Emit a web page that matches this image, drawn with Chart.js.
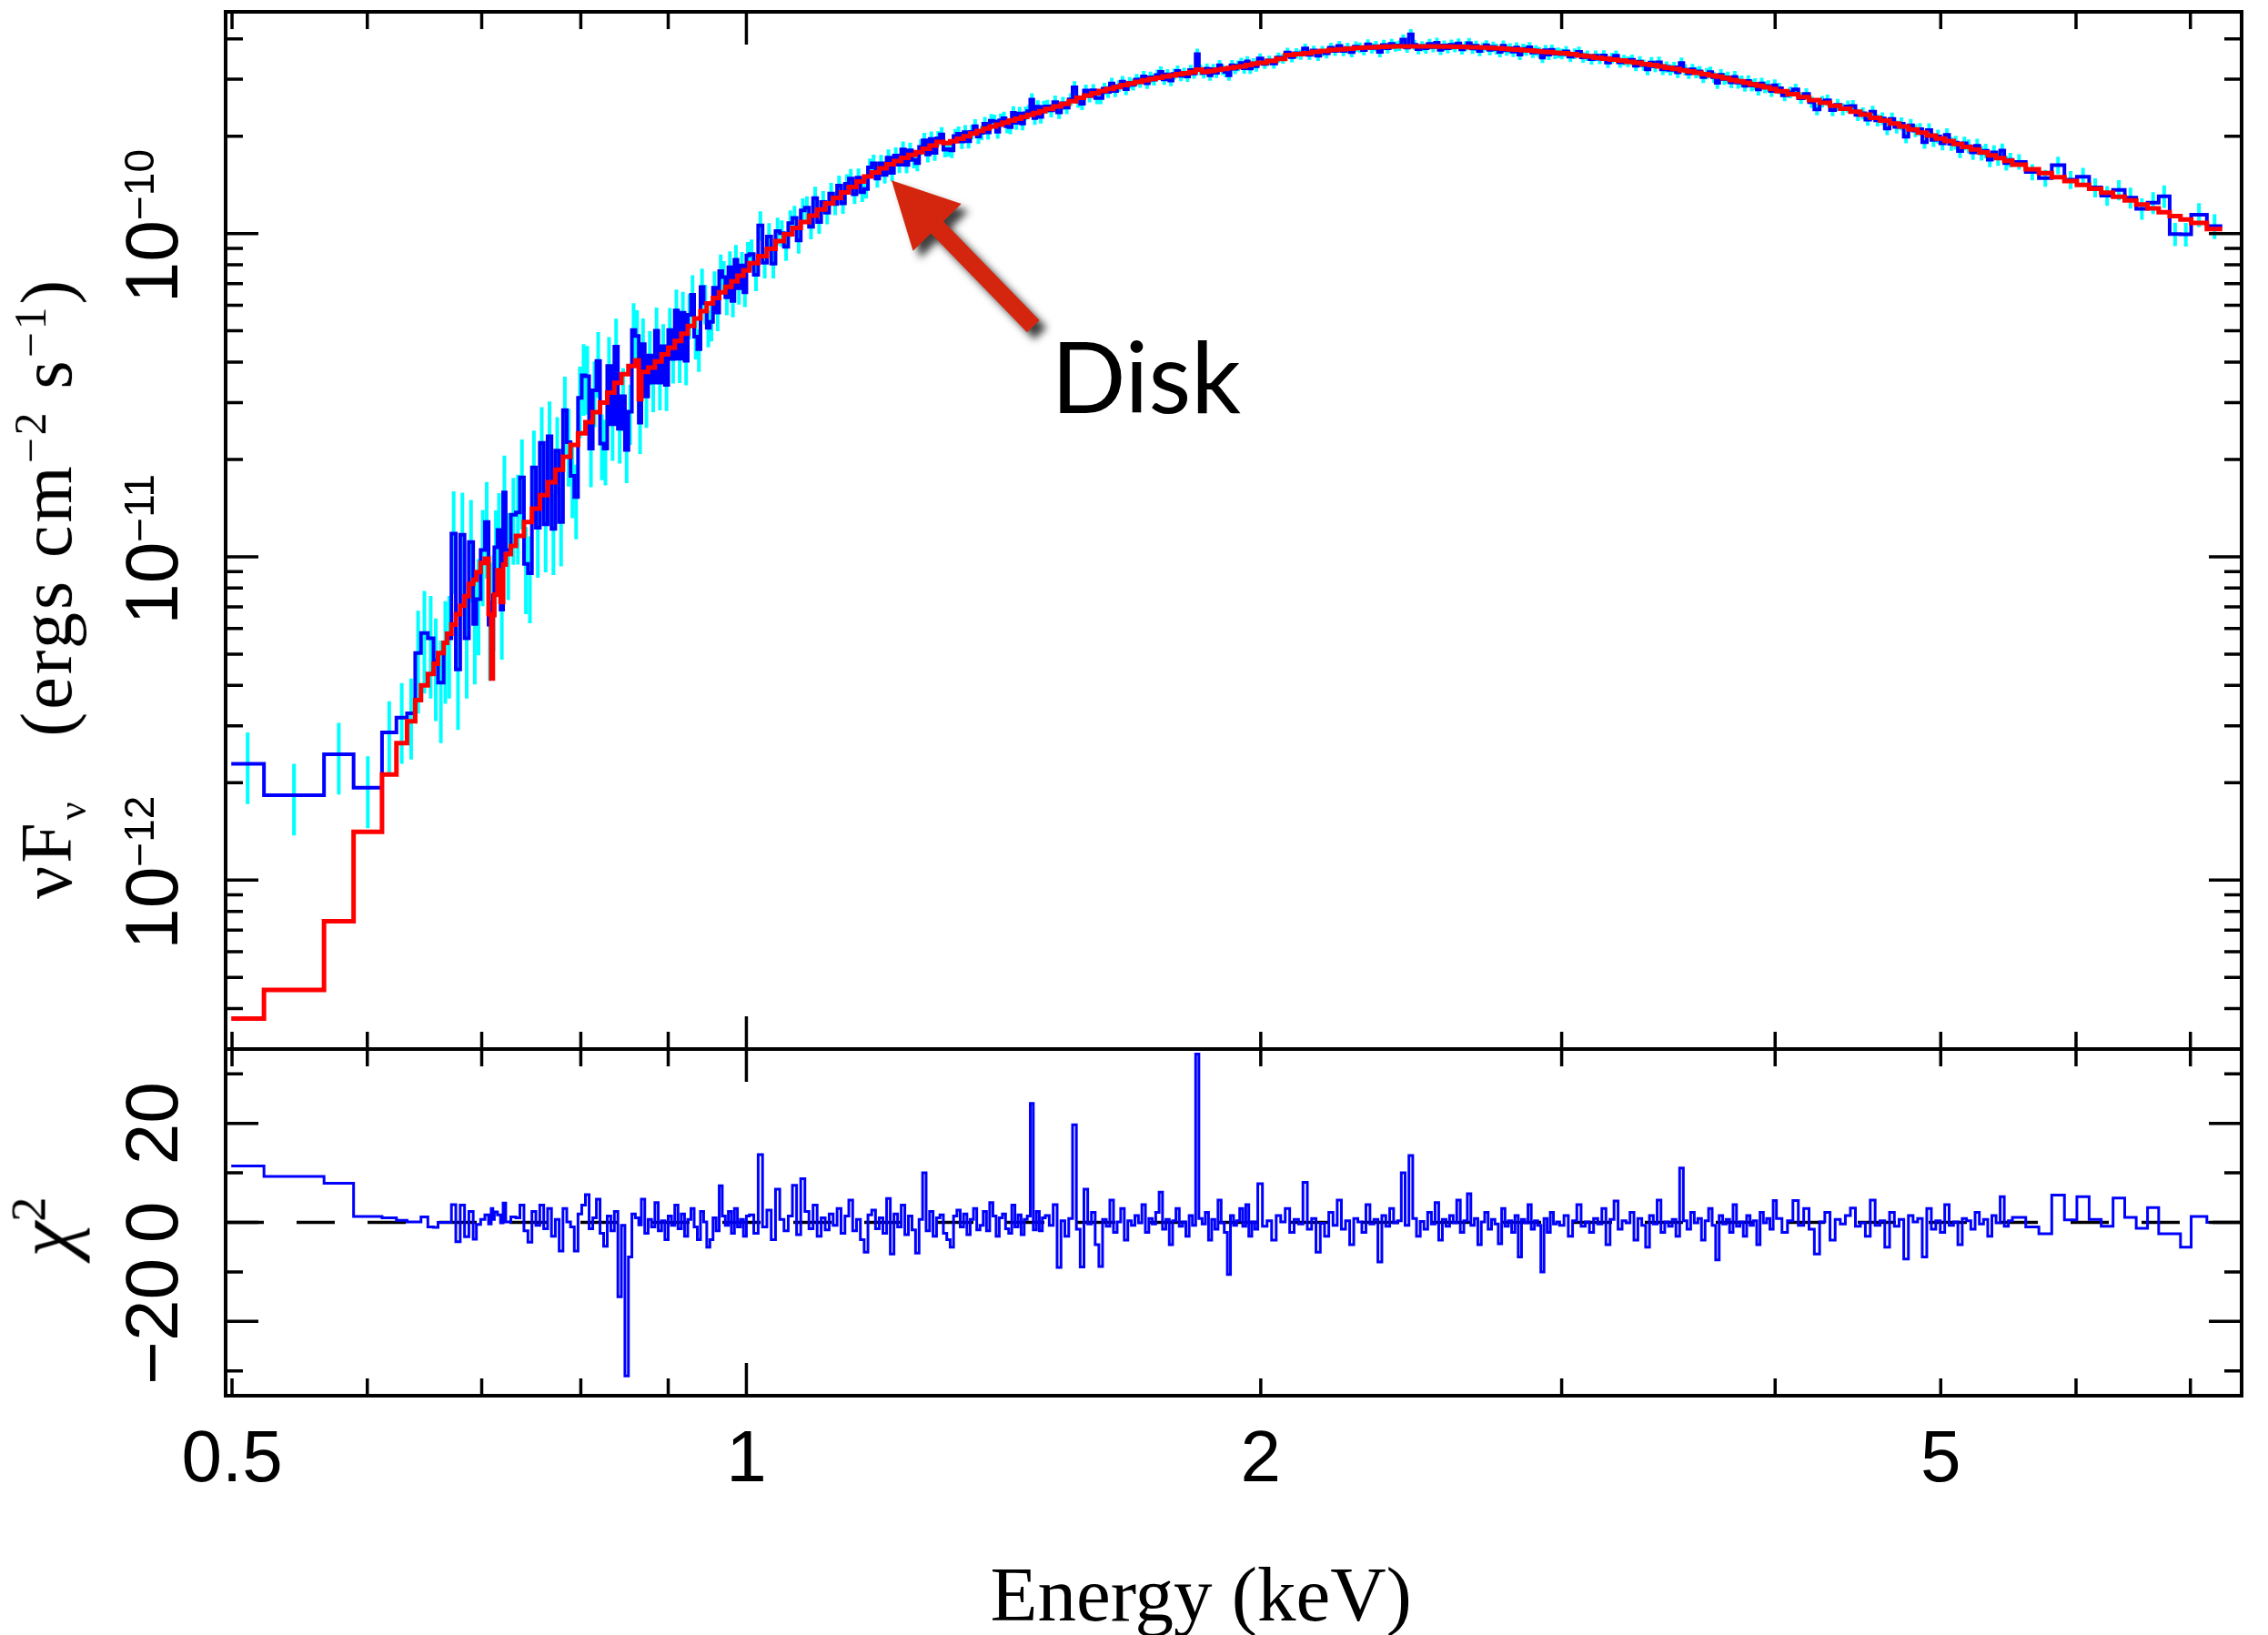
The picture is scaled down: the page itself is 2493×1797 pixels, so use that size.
<!DOCTYPE html>
<html>
<head>
<meta charset="utf-8">
<title>Disk spectrum</title>
<script src="https://cdn.jsdelivr.net/npm/chart.js@4.4.1/dist/chart.umd.min.js"></script>
<style>
  html, body { margin: 0; padding: 0; background: #fff; }
  #page { position: relative; width: 2493px; height: 1797px; overflow: hidden; background: #fff; }
  #page canvas { position: absolute; left: 0; }
  #specCanvas { top: 0; }
  #resCanvas { top: 1100px; }
  .label { position: absolute; left: 0; top: 0; white-space: nowrap; color: #000; line-height: 1; }
  .label sup { font-size: 0.62em; line-height: 0; }
  #yTitle { font: 80px "Liberation Serif", "Times New Roman", serif; letter-spacing: 3px; }
  #yTitle .lo { font-size: 0.55em; position: relative; top: 0.36em; }
  #chiTitle { font: 88px "Liberation Serif", "Times New Roman", serif; }
  #xTitle { font: 85px "Liberation Serif", "Times New Roman", serif; }
</style>
</head>
<body>
<div id="page">
  <canvas id="specCanvas" width="2493" height="1160"></canvas>
  <canvas id="resCanvas" width="2493" height="697"></canvas>
  <div class="label" id="yTitle">νF<span class="lo">ν</span>&nbsp;&nbsp;&nbsp;(ergs cm<sup>−2</sup> s<sup>−1</sup>)</div>
  <div class="label" id="chiTitle"><i>χ</i><sup>2</sup></div>
  <div class="label" id="xTitle">Energy (keV)</div>
</div>
<script>
// ── SPECTRUM DATA ──
// flux values are in units of 1e-12 ergs cm^-2 s^-1
const fluxUnit = 1e-12;

// model bin edges (keV), one more than the number of model bins
const modelEdges = [
  0.4995, 0.522, 0.566, 0.589, 0.612, 0.624, 0.633, 0.640, 0.645, 0.651,
  0.656, 0.660, 0.665, 0.668, 0.672, 0.676, 0.680, 0.684, 0.688, 0.692,
  0.695, 0.699, 0.703, 0.7065, 0.709, 0.7106, 0.712, 0.715, 0.718, 0.7205,
  0.723, 0.728, 0.733,
  0.741, 0.749, 0.757, 0.765, 0.773, 0.781, 0.789, 0.797, 0.805, 0.813,
  0.821, 0.829, 0.837, 0.845, 0.853, 0.861, 0.865, 0.868, 0.876, 0.884,
  0.892, 0.900, 0.908, 0.916, 0.924, 0.932, 0.940, 0.948, 0.956, 0.964,
  0.972, 0.980, 0.988, 0.996, 1.004,
  1.016, 1.028, 1.040, 1.052, 1.064, 1.076, 1.088, 1.100, 1.112, 1.124,
  1.136, 1.148, 1.160, 1.172, 1.184, 1.196, 1.208, 1.220, 1.232, 1.244,
  1.256, 1.268, 1.280, 1.292, 1.304, 1.316, 1.328, 1.340, 1.352, 1.364,
  1.376, 1.388, 1.400, 1.412, 1.424, 1.436, 1.448, 1.460, 1.472, 1.484,
  1.496,
  1.512, 1.528, 1.544, 1.560, 1.576, 1.592, 1.608, 1.624, 1.640, 1.656,
  1.672, 1.688, 1.704, 1.720, 1.736, 1.752, 1.768, 1.784, 1.800, 1.816,
  1.832, 1.848, 1.864, 1.880, 1.896, 1.912, 1.928, 1.944, 1.960, 1.976,
  1.992,
  2.017, 2.042, 2.067, 2.092, 2.117, 2.142, 2.167, 2.192, 2.217, 2.242,
  2.267, 2.292, 2.317, 2.342, 2.367, 2.392, 2.417, 2.442, 2.467, 2.492,
  2.517, 2.542, 2.567, 2.592, 2.617, 2.642, 2.667, 2.692, 2.717, 2.742,
  2.767, 2.792, 2.817, 2.842, 2.867, 2.892, 2.917, 2.942, 2.967, 2.992,
  3.027, 3.062, 3.097, 3.132, 3.167, 3.202, 3.237, 3.272, 3.307, 3.342,
  3.377, 3.412, 3.447, 3.482, 3.517, 3.552, 3.587, 3.622, 3.657, 3.692,
  3.727, 3.762, 3.797, 3.832, 3.867, 3.902, 3.937, 3.972, 4.007,
  4.067, 4.127, 4.187, 4.247, 4.307, 4.367, 4.427, 4.487, 4.547, 4.607,
  4.667, 4.727, 4.787, 4.847, 4.907, 4.967, 5.027, 5.087, 5.147, 5.207,
  5.267, 5.327, 5.387, 5.447, 5.507,
  5.607, 5.707, 5.807, 5.907, 6.007, 6.107, 6.207, 6.307, 6.407, 6.507,
  6.607, 6.707, 6.807, 6.907, 7.007, 7.157, 7.307
];

// folded model, per model bin
const modelFlux = [
  0.373, 0.457, 0.746, 1.41, 2.12, 2.65, 3.10, 3.60, 4.00, 4.34,
  4.67, 5.04, 5.42, 5.78, 6.17, 6.65, 7.05, 7.55, 8.24, 8.49,
  8.97, 9.57, 9.86, 6.65, 4.20, 6.60, 7.64, 9.08, 7.24, 9.46,
  10.2, 10.8,
  11.6, 12.8, 14.1, 15.5, 17.0, 18.6, 20.4, 22.2, 24.1, 26.1,
  28.0, 30.0, 32.2, 34.5, 36.7, 38.9, 40.5, 30.7, 37.3, 38.5,
  40.2, 42.3, 44.3, 46.5, 49.0, 51.8, 54.6, 57.5, 60.8, 63.2,
  65.8, 68.4, 71.1, 74.0, 76.9,
  80.9, 85.1, 89.7, 94.8, 99.5, 104.0, 108.6, 113.5, 118.6, 123.9,
  128.8, 134.0, 139.3, 144.9, 150.0, 154.5, 159.2, 163.7, 167.5, 171.4,
  175.0, 178.6, 182.8, 187.1, 191.9, 190.5, 192.8, 196.3, 200.0, 203.7,
  207.5, 211.3, 214.3, 217.3, 220.3, 223.4, 226.5, 229.6, 232.8, 236.0,
  238.8,
  242.7, 247.2, 251.8, 256.4, 263.0, 267.3, 271.6, 276.1, 279.9, 283.8,
  287.7, 291.1, 294.4, 297.8, 300.6, 303.4, 306.2, 308.3, 311.2, 313.3,
  315.5, 321.4, 316.2, 318.4, 320.6, 322.8, 325.1, 327.3, 328.9, 331.9,
  335.0,
  337.3, 342.0, 346.7, 356.5, 358.9, 361.4, 364.8, 367.3, 369.8, 371.5,
  373.3, 375.0, 375.8, 376.7, 377.6, 378.4, 379.3, 379.3, 379.3, 379.3,
  379.3, 379.3, 378.4, 378.4, 377.6, 377.6, 376.7, 376.7, 375.8, 375.0,
  374.1, 373.3, 371.5, 370.7, 369.0, 368.1, 366.4, 364.8, 363.9, 362.2,
  361.4, 358.9, 355.6, 353.2, 349.9, 347.5, 345.1, 342.8, 339.6, 337.3,
  334.2, 331.9, 328.9, 325.8, 322.8, 319.9, 317.0, 314.1, 311.2, 308.3,
  305.5, 302.0, 298.5, 295.8, 292.4, 289.1, 286.4, 283.1, 279.9,
  275.4, 269.8, 264.2, 258.8, 253.5, 248.3, 243.2, 238.2, 233.3, 228.0,
  223.4, 218.8, 214.3, 209.9, 205.1, 200.9, 196.8, 193.2, 189.2, 185.4,
  182.0, 178.2, 174.6, 171.0, 167.9,
  163.3, 158.1, 153.8, 149.3, 145.2, 141.3, 137.4, 133.7, 130.0, 126.5,
  123.0, 119.7, 116.4, 113.2, 110.4, 107.9, 103.3
];

// data bin edges (keV), one more than the number of data bins
const dataEdges = [
  0.4995, 0.522, 0.566, 0.589, 0.612, 0.624, 0.633, 0.640, 0.645, 0.651,
  0.656, 0.660, 0.665, 0.668, 0.672, 0.676, 0.680, 0.684, 0.688, 0.692,
  0.695, 0.699, 0.703, 0.7065, 0.709, 0.7106, 0.712, 0.715, 0.718, 0.7205,
  0.723, 0.728, 0.733,
  0.737, 0.741, 0.745, 0.749, 0.753, 0.757, 0.761, 0.765, 0.769, 0.773,
  0.777, 0.781, 0.785, 0.789, 0.793, 0.797, 0.801, 0.805, 0.809, 0.813,
  0.817, 0.821, 0.825, 0.829, 0.833, 0.837, 0.841, 0.845, 0.849, 0.853,
  0.857, 0.861, 0.865, 0.868, 0.872, 0.876, 0.880, 0.884, 0.888, 0.892,
  0.896, 0.900, 0.904, 0.908, 0.912, 0.916, 0.920, 0.924, 0.928, 0.932,
  0.936, 0.940, 0.944, 0.948, 0.952, 0.956, 0.960, 0.964, 0.968, 0.972,
  0.976, 0.980, 0.984, 0.988, 0.992, 0.996, 1.000, 1.004,
  1.010, 1.016, 1.022, 1.028, 1.034, 1.040, 1.046, 1.052, 1.058, 1.064,
  1.070, 1.076, 1.082, 1.088, 1.094, 1.100, 1.106, 1.112, 1.118, 1.124,
  1.130, 1.136, 1.142, 1.148, 1.154, 1.160, 1.166, 1.172, 1.178, 1.184,
  1.190, 1.196, 1.202, 1.208, 1.214, 1.220, 1.226, 1.232, 1.238, 1.244,
  1.250, 1.256, 1.262, 1.268, 1.274, 1.280, 1.286, 1.292, 1.298, 1.304,
  1.310, 1.316, 1.322, 1.328, 1.334, 1.340, 1.346, 1.352, 1.358, 1.364,
  1.370, 1.376, 1.382, 1.388, 1.394, 1.400, 1.406, 1.412, 1.418, 1.424,
  1.430, 1.436, 1.442, 1.448, 1.454, 1.460, 1.466, 1.472, 1.478, 1.484,
  1.490, 1.496,
  1.504, 1.512, 1.520, 1.528, 1.536, 1.544, 1.552, 1.560, 1.568, 1.576,
  1.584, 1.592, 1.600, 1.608, 1.616, 1.624, 1.632, 1.640, 1.648, 1.656,
  1.664, 1.672, 1.680, 1.688, 1.696, 1.704, 1.712, 1.720, 1.728, 1.736,
  1.744, 1.752, 1.760, 1.768, 1.776, 1.784, 1.792, 1.800, 1.808, 1.816,
  1.824, 1.832, 1.840, 1.848, 1.856, 1.864, 1.872, 1.880, 1.888, 1.896,
  1.904, 1.912, 1.920, 1.928, 1.936, 1.944, 1.952, 1.960, 1.968, 1.976,
  1.984, 1.992,
  2.0045, 2.017, 2.0295, 2.042, 2.0545, 2.067, 2.0795, 2.092, 2.1045, 2.117,
  2.1295, 2.142, 2.1545, 2.167, 2.1795, 2.192, 2.2045, 2.217, 2.2295, 2.242,
  2.2545, 2.267, 2.2795, 2.292, 2.3045, 2.317, 2.3295, 2.342, 2.3545, 2.367,
  2.3795, 2.392, 2.4045, 2.417, 2.4295, 2.442, 2.4545, 2.467, 2.4795, 2.492,
  2.5045, 2.517, 2.5295, 2.542, 2.5545, 2.567, 2.5795, 2.592, 2.6045, 2.617,
  2.6295, 2.642, 2.6545, 2.667, 2.6795, 2.692, 2.7045, 2.717, 2.7295, 2.742,
  2.7545, 2.767, 2.7795, 2.792, 2.8045, 2.817, 2.8295, 2.842, 2.8545, 2.867,
  2.8795, 2.892, 2.9045, 2.917, 2.9295, 2.942, 2.9545, 2.967, 2.9795, 2.992,
  3.0095, 3.027, 3.0445, 3.062, 3.0795, 3.097, 3.1145, 3.132, 3.1495, 3.167,
  3.1845, 3.202, 3.2195, 3.237, 3.2545, 3.272, 3.2895, 3.307, 3.3245, 3.342,
  3.3595, 3.377, 3.3945, 3.412, 3.4295, 3.447, 3.4645, 3.482, 3.4995, 3.517,
  3.5345, 3.552, 3.5695, 3.587, 3.6045, 3.622, 3.6395, 3.657, 3.6745, 3.692,
  3.7095, 3.727, 3.7445, 3.762, 3.7795, 3.797, 3.8145, 3.832, 3.8495, 3.867,
  3.8845, 3.902, 3.9195, 3.937, 3.9545, 3.972, 3.9895, 4.007,
  4.037, 4.067, 4.097, 4.127, 4.157, 4.187, 4.217, 4.247, 4.277, 4.307,
  4.337, 4.367, 4.397, 4.427, 4.457, 4.487, 4.517, 4.547, 4.577, 4.607,
  4.637, 4.667, 4.697, 4.727, 4.757, 4.787, 4.817, 4.847, 4.877, 4.907,
  4.937, 4.967, 4.997, 5.027, 5.057, 5.087, 5.117, 5.147, 5.177, 5.207,
  5.237, 5.267, 5.297, 5.327, 5.357, 5.387, 5.417, 5.447, 5.477, 5.507,
  5.607, 5.707, 5.807, 5.907, 6.007, 6.107, 6.207, 6.307, 6.407, 6.507,
  6.607, 6.707, 6.807, 6.907, 7.007, 7.157, 7.307
];

// measured flux, per data bin
const dataFlux = [
  2.29, 1.83, 2.45, 1.93, 2.86, 3.18, 3.28, 5.04, 5.81, 5.60,
  4.77, 4.08, 5.40, 5.60, 11.8, 4.48, 11.7, 5.60, 11.1, 6.20,
  7.40, 10.5, 12.8, 6.17, 7.20, 7.60, 10.7, 12.1, 6.86, 15.8,
  10.5, 13.5,
  13.7, 17.6, 9.5, 8.9, 18.9, 12.3, 22.5, 12.6, 23.6, 12.2,
  21.3, 12.8, 28.4, 22.6, 17.8, 15.3, 31.0, 36.4, 36.2, 21.6,
  32.7, 40.3, 22.4, 21.6, 38.9, 25.7, 44.7, 24.9, 31.4, 21.4,
  28.1, 50.3, 48.2, 26.0, 45.5, 31.3, 41.9, 34.6, 50.0, 34.6,
  44.8, 34.0, 50.3, 40.9, 57.8, 41.0, 56.9, 40.4, 56.0, 64.6,
  48.0, 43.9, 68.3, 60.9, 51.1, 53.3, 67.9, 57.0, 76.5, 73.3,
  63.5, 78.6, 61.9, 83.0, 67.7, 79.7, 65.8, 85.6,
  86.3, 74.5, 106.0, 81.2, 97.9, 80.7, 101.7, 100.3, 90.9, 107.7,
  111.7, 95.2, 117.8, 120.2, 104.9, 128.6, 108.5, 125.2, 116.0, 133.0,
  123.3, 140.7, 123.9, 142.5, 147.9, 132.3, 148.8, 134.1, 137.3, 160.2,
  164.9, 147.9, 164.9, 151.9, 171.8, 154.1, 174.3, 163.3, 182.1, 163.0,
  180.7, 168.8, 165.1, 185.2, 194.2, 175.7, 196.0, 177.5, 196.9, 202.5,
  181.6, 182.4, 180.8, 200.1, 203.6, 192.7, 205.7, 192.9, 206.3, 214.7,
  199.5, 204.7, 218.4, 205.4, 223.2, 222.1, 206.5, 224.1, 227.1, 214.8,
  213.4, 236.2, 219.8, 235.1, 218.9, 235.3, 238.9, 259.4, 227.4, 246.8,
  229.3, 246.2,
  247.2, 240.4, 255.0, 237.1, 252.9, 245.1, 259.8, 283.3, 256.3, 252.2,
  276.8, 266.1, 277.3, 262.6, 262.6, 280.6, 274.2, 291.1, 275.9, 286.0,
  294.9, 279.5, 292.6, 288.5, 299.3, 294.1, 306.0, 291.8, 304.3, 299.1,
  309.3, 316.4, 299.8, 310.4, 297.3, 311.4, 318.4, 307.5, 313.6, 306.2,
  320.3, 312.9, 359.1, 321.0, 313.5, 323.5, 308.8, 322.3, 314.4, 331.4,
  321.1, 316.4, 308.4, 331.4, 323.3, 330.1, 336.6, 324.7, 340.9, 324.1,
  335.7, 329.5,
  347.9, 334.8, 343.1, 335.7, 350.2, 347.6, 362.7, 351.3, 361.2, 357.5,
  373.4, 357.1, 368.0, 354.6, 367.0, 360.9, 375.4, 367.2, 380.2, 366.8,
  375.0, 364.3, 378.8, 375.7, 369.3, 384.4, 374.6, 379.9, 364.4, 382.9,
  374.2, 385.8, 379.0, 381.4, 398.3, 376.1, 413.4, 383.5, 371.9, 379.7,
  374.0, 385.7, 377.2, 388.8, 369.9, 381.6, 374.2, 383.7, 377.2, 387.1,
  371.3, 379.7, 388.0, 373.5, 380.9, 367.2, 376.1, 382.1, 369.8, 378.2,
  372.0, 364.7, 380.8, 369.0, 373.6, 365.1, 376.0, 357.7, 372.2, 368.7,
  376.6, 362.8, 368.5, 363.2, 350.2, 369.0, 357.6, 370.2, 360.1, 362.5,
  359.1, 365.8, 352.4, 360.2, 364.6, 350.7, 355.0, 346.3, 354.7, 347.1,
  355.3, 337.7, 348.9, 354.6, 338.7, 344.0, 340.1, 344.7, 330.3, 340.4,
  332.0, 321.7, 337.8, 329.1, 338.7, 322.1, 327.6, 321.0, 326.5, 315.1,
  336.7, 321.0, 313.0, 322.0, 314.6, 317.1, 304.4, 312.3, 315.7, 304.7,
  292.5, 309.6, 300.9, 304.0, 293.7, 305.2, 292.8, 295.9, 286.6, 296.3,
  287.1, 290.1, 278.9, 291.1, 283.6, 285.9, 276.2, 287.5,
  281.2, 267.4, 273.3, 279.2, 262.2, 270.4, 254.8, 242.1, 255.8, 258.4,
  241.0, 250.2, 242.4, 247.1, 247.9, 232.8, 235.6, 225.0, 238.2, 223.8,
  226.7, 211.1, 226.1, 213.6, 218.5, 199.2, 216.0, 208.3, 210.1, 191.7,
  208.9, 194.9, 199.7, 190.0, 201.8, 189.4, 191.1, 179.9, 190.0, 186.3,
  178.1, 186.8, 177.2, 180.1, 169.1, 178.2, 170.9, 180.4, 165.2, 168.8,
  166.6, 154.9, 148.4, 162.7, 146.7, 149.8, 138.8, 131.0, 136.5, 129.0,
  119.3, 124.5, 130.4, 99.6, 99.4, 114.4, 105.4
];

// 1-sigma error on the measured flux, percent, per data bin
const dataErrPct = [
  25, 25, 25, 25, 25, 28, 28, 35, 35, 35,
  35, 35, 35, 35, 35, 35, 35, 35, 35, 35,
  33, 33, 33, 33, 33, 33, 30, 30, 30, 30,
  30, 30,
  31, 31, 30, 30, 30, 30, 29, 29, 28, 28,
  27, 27, 27, 27, 26, 26, 25, 25, 24, 24,
  23, 23, 23, 23, 23, 23, 22, 22, 22, 21,
  21, 21, 20, 20, 20, 20, 19, 19, 18, 18,
  17, 17, 17, 16, 16, 16, 16, 16, 16, 15,
  15, 15, 14, 14, 13, 13, 12.5, 12.5, 12.5, 12,
  12, 12, 11, 11, 11, 10, 10, 10,
  11, 11, 10.5, 10.5, 10, 10, 10, 9.5, 9.5, 9.5,
  9, 9, 9, 8.5, 8.5, 8.5, 8, 8, 8, 7.8,
  7.6, 7.4, 7.2, 7, 7, 6.8, 6.8, 6.6, 6.6, 6.4,
  6.4, 6.2, 6.2, 6, 6, 6, 5.9, 5.9, 5.8, 5.8,
  5.7, 5.7, 5.6, 5.6, 5.5, 5.5, 5.5, 5.4, 5.4, 5.4,
  5.3, 5.3, 5.3, 5.2, 5.2, 5.2, 5.2, 5.1, 5.1, 5.1,
  5.1, 5, 5, 5, 5, 5, 4.9, 4.9, 4.9, 4.9,
  4.9, 4.8, 4.8, 4.8, 4.8, 4.8, 4.7, 4.7, 4.7, 4.7,
  4.6, 4.6,
  4.8, 4.8, 4.7, 4.7, 4.6, 4.6, 4.6, 4.5, 4.5, 4.5,
  4.4, 4.4, 4.4, 4.3, 4.3, 4.3, 4.3, 4.2, 4.2, 4.2,
  4.2, 4.1, 4.1, 4.1, 4.1, 4, 4, 4, 4, 4,
  3.9, 3.9, 3.9, 3.9, 3.9, 3.9, 3.9, 3.8, 3.8, 3.8,
  3.8, 3.8, 3.8, 3.8, 3.8, 3.8, 3.8, 3.8, 3.8, 3.8,
  3.8, 3.8, 3.8, 3.8, 3.8, 3.8, 3.8, 3.8, 3.8, 3.8,
  3.8, 3.8,
  3.6, 3.6, 3.6, 3.6, 3.6, 3.6, 3.6, 3.6, 3.6, 3.6,
  3.6, 3.6, 3.6, 3.6, 3.6, 3.6, 3.6, 3.6, 3.6, 3.6,
  3.7, 3.7, 3.7, 3.7, 3.7, 3.7, 3.7, 3.7, 3.7, 3.7,
  3.7, 3.7, 3.7, 3.7, 3.7, 3.7, 3.7, 3.7, 3.7, 3.7,
  3.7, 3.7, 3.7, 3.7, 3.7, 3.7, 3.7, 3.7, 3.7, 3.7,
  3.7, 3.7, 3.7, 3.7, 3.7, 3.7, 3.7, 3.7, 3.7, 3.7,
  3.8, 3.8, 3.8, 3.8, 3.8, 3.8, 3.8, 3.8, 3.8, 3.8,
  3.8, 3.8, 3.8, 3.8, 3.8, 3.8, 3.8, 3.8, 3.8, 3.8,
  3.8, 3.8, 3.8, 3.8, 3.8, 3.8, 3.8, 3.8, 3.8, 3.8,
  3.8, 3.8, 3.8, 3.8, 3.8, 3.8, 3.8, 3.8, 3.8, 3.8,
  4, 4, 4, 4, 4, 4, 4, 4, 4, 4,
  4, 4, 4, 4, 4, 4, 4, 4, 4, 4,
  4.2, 4.2, 4.2, 4.2, 4.2, 4.2, 4.2, 4.2, 4.2, 4.2,
  4.2, 4.2, 4.2, 4.2, 4.2, 4.2, 4.2, 4.2,
  4.1, 4.1, 4.1, 4.1, 4.1, 4.1, 4.1, 4.1, 4.1, 4.1,
  4.3, 4.3, 4.3, 4.3, 4.3, 4.3, 4.3, 4.3, 4.3, 4.3,
  4.6, 4.6, 4.6, 4.6, 4.6, 4.6, 4.6, 4.6, 4.6, 4.6,
  4.9, 4.9, 4.9, 4.9, 4.9, 4.9, 4.9, 4.9, 4.9, 4.9,
  5.2, 5.2, 5.2, 5.2, 5.2, 5.2, 5.2, 5.2, 5.2, 5.2,
  5.5, 5.8, 6.0, 6.2, 6.4, 6.6, 6.8, 7.0, 7.2, 7.4,
  7.6, 7.8, 8.0, 8.2, 8.4, 8.6, 8.8
];

// signed chi-square contribution, per data bin
const chiSq = [
  11.4, 9.3, 7.9, 1.2, 0.9, 0.4, 0.1, 0.1, 1.1, -0.9,
  -1.0, 0.0, 0.0, 0.0, 3.6, -3.9, 3.5, -2.9, 2.2, -3.4,
  -0.4, 0.6, 1.5, -0.3, 2.8, 0.6, 2.1, 1.5, -0.1, 3.9,
  0.1, 1.1,
  0.9, 3.5, -1.7, -4.0, 2.2, -0.6, 3.5, -1.3, 2.8, -2.8,
  0.6, -5.8, 2.8, 0.1, -0.9, -5.8, 1.7, 3.5, 5.6, -1.3,
  0.9, 4.7, -2.2, -4.8, 1.3, -1.7, 2.2, -15.0, -0.6, -31.0,
  -7.0, 1.7, 0.9, -0.5, 4.7, -2.2, 0.6, -0.9, 4.0, -1.7,
  0.3, -3.5, 1.3, -0.6, 3.5, -1.3, 1.7, -2.8, 0.6, 2.8,
  -0.9, -3.5, 2.2, 0.1, -5.0, -3.5, 0.9, -1.7, 7.4, 1.3,
  -0.6, 2.2, -2.2, 2.8, -0.9, 0.6, -2.8, 1.3,
  1.5, -2.2, 13.7, -0.9, 2.5, -3.5, 6.7, 0.6, -1.7, 1.3,
  7.5, -2.5, 8.8, 2.2, -1.3, 3.5, -2.8, 0.9, -1.5, 1.7,
  -0.6, 2.8, -2.2, 1.3, 4.5, -1.7, 0.6, -3.5, -6.0, 1.5,
  2.5, -1.3, 0.9, -2.2, 4.8, -6.4, 1.7, -0.9, 3.5, -2.5,
  1.3, -1.5, -6.2, 0.6, 10.0, -1.7, 2.2, -2.8, 0.9, 1.5,
  -2.2, -3.5, -5.0, 1.3, 2.5, -0.9, 1.7, -2.5, 0.6, 2.8,
  -1.5, -0.6, 2.2, -1.7, 4.0, 1.3, -2.8, 0.9, 1.7, -1.3,
  -2.2, 3.5, -0.9, 1.5, -2.5, 0.6, 1.3, 24.0, -1.5, 2.2,
  -1.7, 0.9,
  1.4, -0.6, 3.6, -9.1, 0.3, -2.8, 0.8, 19.7, -1.4, -9.0,
  6.7, -0.3, 2.0, -4.5, -8.9, 0.6, -0.8, 4.5, -2.0, 0.1,
  2.8, -3.6, 0.3, -0.6, 1.4, -0.1, 3.6, -2.0, 0.8, -0.3,
  2.0, 6.1, -1.4, 0.6, -4.5, 0.3, 2.8, -0.8, 0.1, -2.8,
  1.4, -0.6, 34.0, 0.8, -0.3, 2.0, -3.6, 0.6, -1.4, 4.5,
  -0.1, -2.0, -10.5, 1.4, -0.6, 0.3, 2.8, -0.8, 3.6, -2.8,
  0.1, -1.4,
  7.8, -0.8, 0.3, -3.6, 1.4, 0.1, 2.8, -2.0, 0.6, -0.3,
  8.1, -1.4, 0.8, -6.0, -0.2, -2.8, 2.0, -0.6, 4.5, -1.4,
  0.3, -4.5, 0.8, 0.1, -2.0, 3.6, -0.3, 0.6, -8.0, 1.4,
  -0.8, 2.8, -0.1, 0.3, 10.0, -0.6, 13.5, 0.8, -2.8, 0.2,
  -1.4, 2.0, -0.3, 4.0, -3.6, 0.6, -0.8, 1.4, -0.1, 4.5,
  -2.0, 0.3, 5.8, -0.6, 0.8, -4.5, 0.1, 2.0, -1.4, 0.6,
  -0.3, -4.3, 2.8, -0.8, 0.3, -2.0, 1.4, -7.0, 0.6, -0.1,
  3.6, -1.4, 0.3, -0.6, -10.0, 0.8, -2.0, 2.0, -0.3, 0.1,
  -0.6, 1.4, -2.8, 0.3, 3.6, -0.8, 0.1, -2.0, 0.8, -0.3,
  2.8, -4.5, 0.6, 4.3, -1.4, 0.3, -0.1, 2.0, -3.6, 0.8,
  -0.6, -5.0, 1.4, -0.3, 4.5, -2.0, 0.1, -0.8, 0.6, -2.8,
  11.0, 0.3, -1.4, 2.0, -0.1, 0.8, -3.6, 0.3, 2.8, -0.6,
  -7.6, 1.4, -0.3, 0.6, -2.0, 3.6, -0.8, 0.1, -2.8, 1.4,
  -0.6, 0.3, -4.5, 2.0, -0.1, 0.8, -1.4, 4.4,
  0.8, -2.0, 0.3, 4.4, -0.6, 2.8, -1.4, -6.4, 0.1, 2.0,
  -3.6, 0.6, -0.3, 1.4, 2.9, -0.8, -0.1, -2.8, 4.5, -0.6,
  0.3, -5.0, 2.0, -0.8, 0.6, -7.4, 1.4, 0.1, 0.8, -7.0,
  2.8, -1.4, 0.3, -2.0, 3.6, -0.6, 0.1, -4.5, 0.8, 0.3,
  -1.4, 2.0, -0.3, 0.6, -2.8, 1.4, -0.1, 5.2, -0.8, 0.3,
  1.0, -0.9, -2.3, 5.5, 0.5, 5.2, 0.6, -0.8, 4.9, 1.0,
  -1.2, 3.0, -2.3, -2.3, -5.0, 1.2, 0.0
];

// ── AXES ──
const energyMin = 0.4957, energyMax = 7.5;
const fluxMin = 3.24e-13, fluxMax = 4.85e-10;
const chiMin = -35, chiMax = 35;

const energyTicks  = [0.5, 0.6, 0.7, 0.8, 0.9, 1, 2, 3, 4, 5, 6, 7];
const energyMajor  = [1];
const energyLabels = [0.5, 1, 2, 5];
const fluxDecades  = [-13, -12, -11, -10];
const fluxLabelExp = [-12, -11, -10];
const chiTicks     = [-30, -20, -10, 0, 10, 20, 30];
const chiMajor     = [-20, 0, 20];
const chiLabels    = [-20, 0, 20];

// annotation anchors, in data units (keV, flux)
const diskArrowTail = [1.472, 5.16e-11];
const diskArrowTip  = [1.216, 1.46e-10];
const diskLabelAt   = [1.508, 2.79e-11];

const nModel = Math.min(modelEdges.length - 1, modelFlux.length);
const nData = Math.min(dataEdges.length - 1, dataFlux.length, dataErrPct.length, chiSq.length);
if (nModel !== modelEdges.length - 1) console.warn('model arrays differ', modelEdges.length - 1, modelFlux.length);
if (nData !== dataEdges.length - 1) console.warn('data arrays differ', dataEdges.length - 1, dataFlux.length, dataErrPct.length, chiSq.length);

const fluxTicks = [];
fluxDecades.forEach(d => {
    for (let m = 1; m <= 9; m++) {
        const v = m * Math.pow(10, d);
        if (v > fluxMin && v < fluxMax) fluxTicks.push({ v, major: m === 1 });
    }
});

// histogram: a flat segment across every bin
function histPoints(edges, values, n, k) {
    const pts = [];
    for (let i = 0; i < n; i++) {
        pts.push({ x: edges[i], y: values[i] * k });
        pts.push({ x: edges[i + 1], y: values[i] * k });
    }
    return pts;
}

const TICK_FONT = '"Liberation Sans", Arial, Helvetica, sans-serif';
const MINOR = 19, MAJOR = 36;

function drawFrame(chart, yTicks) {
    const { ctx, chartArea: a } = chart;
    const xs = chart.scales.x, ys = chart.scales.y;
    ctx.save();
    ctx.strokeStyle = '#000';
    ctx.lineCap = 'butt';
    ctx.lineWidth = 3.5;
    ctx.beginPath();
    energyTicks.forEach(t => {
        const px = xs.getPixelForValue(t);
        const len = energyMajor.includes(t) ? MAJOR : MINOR;
        ctx.moveTo(px, a.top);    ctx.lineTo(px, a.top + len);
        ctx.moveTo(px, a.bottom); ctx.lineTo(px, a.bottom - len);
    });
    yTicks.forEach(t => {
        const py = ys.getPixelForValue(t.v);
        const len = t.major ? MAJOR : MINOR;
        ctx.moveTo(a.left, py);  ctx.lineTo(a.left + len, py);
        ctx.moveTo(a.right, py); ctx.lineTo(a.right - len, py);
    });
    ctx.stroke();
    ctx.lineWidth = 4;
    ctx.strokeRect(a.left, a.top, a.right - a.left, a.bottom - a.top);
    ctx.restore();
}

// tick label turned to read bottom-to-top, baseline on the plot side
function rotatedLabel(ctx, baseX, py, main, sup, shift) {
    const mainFont = '82px ' + TICK_FONT, supFont = '46px ' + TICK_FONT;
    ctx.save();
    ctx.translate(baseX, py);
    ctx.rotate(-Math.PI / 2);
    ctx.fillStyle = '#000';
    ctx.textAlign = 'left';
    ctx.textBaseline = 'alphabetic';
    ctx.font = mainFont;
    const wMain = ctx.measureText(main).width;
    ctx.font = supFont;
    const wSup = sup ? ctx.measureText(sup).width : 0;
    const start = shift - (wMain + wSup) / 2;
    ctx.font = mainFont;
    ctx.fillText(main, start, 0);
    if (sup) {
        ctx.font = supFont;
        ctx.fillText(sup, start + wMain, -26);
    }
    ctx.restore();
}

function drawArrow(ctx, x0, y0, x1, y1) {
    const dx = x1 - x0, dy = y1 - y0, L = Math.hypot(dx, dy);
    const ux = dx / L, uy = dy / L, nx = -uy, ny = ux;
    const half = 9.5, headLen = 72, headHalf = 37;
    const bx = x1 - ux * headLen, by = y1 - uy * headLen;
    ctx.beginPath();
    ctx.moveTo(x0 + nx * half, y0 + ny * half);
    ctx.lineTo(bx + nx * half, by + ny * half);
    ctx.lineTo(bx + nx * headHalf, by + ny * headHalf);
    ctx.lineTo(x1, y1);
    ctx.lineTo(bx - nx * headHalf, by - ny * headHalf);
    ctx.lineTo(bx - nx * half, by - ny * half);
    ctx.lineTo(x0 - nx * half, y0 - ny * half);
    ctx.closePath();
    ctx.fill();
}

// ── SPECTRUM PANEL PLUGINS ──
const cyanErrors = {
    id: 'cyanErrors',
    beforeDatasetsDraw(chart) {
        const { ctx, chartArea: a } = chart;
        const xs = chart.scales.x, ys = chart.scales.y;
        ctx.save();
        ctx.beginPath();
        ctx.rect(a.left, a.top, a.right - a.left, a.bottom - a.top);
        ctx.clip();
        ctx.strokeStyle = '#00ffff';
        ctx.lineWidth = 4;
        ctx.beginPath();
        for (let i = 0; i < nData; i++) {
            const e = Math.sqrt(dataEdges[i] * dataEdges[i + 1]);
            const v = dataFlux[i] * fluxUnit;
            const dv = v * dataErrPct[i] / 100;
            const px = xs.getPixelForValue(e);
            ctx.moveTo(px, ys.getPixelForValue(v - dv));
            ctx.lineTo(px, ys.getPixelForValue(v + dv));
        }
        ctx.stroke();
        ctx.restore();
    }
};

const specDecor = {
    id: 'specDecor',
    afterDatasetsDraw(chart) {
        const { ctx } = chart;
        const xs = chart.scales.x, ys = chart.scales.y;
        ctx.save();
        ctx.fillStyle = '#d4260e';
        ctx.shadowColor = 'rgba(30,30,30,0.85)';
        ctx.shadowBlur = 8;
        ctx.shadowOffsetX = 8;
        ctx.shadowOffsetY = 8;
        drawArrow(ctx,
            xs.getPixelForValue(diskArrowTail[0]), ys.getPixelForValue(diskArrowTail[1]),
            xs.getPixelForValue(diskArrowTip[0]), ys.getPixelForValue(diskArrowTip[1]));
        ctx.restore();

        ctx.save();
        ctx.fillStyle = '#000';
        ctx.font = '108px Lato, "Open Sans", sans-serif';
        ctx.textAlign = 'left';
        ctx.textBaseline = 'alphabetic';
        ctx.fillText('Disk', xs.getPixelForValue(diskLabelAt[0]), ys.getPixelForValue(diskLabelAt[1]));
        ctx.restore();
    },
    afterDraw(chart) {
        drawFrame(chart, fluxTicks);
        const ys = chart.scales.y;
        fluxLabelExp.forEach(p => {
            rotatedLabel(chart.ctx, 195, ys.getPixelForValue(Math.pow(10, p)), '10', '−' + Math.abs(p), 8);
        });
    }
};

// ── RESIDUAL PANEL PLUGIN ──
const resDecor = {
    id: 'resDecor',
    afterDraw(chart) {
        const { ctx } = chart;
        drawFrame(chart, chiTicks.map(v => ({ v, major: chiMajor.includes(v) })));
        const xs = chart.scales.x, ys = chart.scales.y;
        chiLabels.forEach(v => {
            rotatedLabel(ctx, 195, ys.getPixelForValue(v), v < 0 ? '−' + Math.abs(v) : String(v), '', 0);
        });
        ctx.save();
        ctx.fillStyle = '#000';
        ctx.font = '80px ' + TICK_FONT;
        ctx.textAlign = 'center';
        ctx.textBaseline = 'alphabetic';
        energyLabels.forEach(e => ctx.fillText(String(e), xs.getPixelForValue(e), 528));
        ctx.restore();
    }
};

const common = {
    responsive: false,
    animation: false,
    devicePixelRatio: 1,
    parsing: false,
    events: [],
    elements: {
        point: { radius: 0 },
        line: { tension: 0, fill: false, borderJoinStyle: 'miter', borderCapStyle: 'butt' }
    },
    plugins: { legend: { display: false }, tooltip: { enabled: false } }
};

const specChart = new Chart(document.getElementById('specCanvas'), {
    type: 'line',
    data: {
        datasets: [
            { label: 'Model', data: histPoints(modelEdges, modelFlux, nModel, fluxUnit), borderColor: '#ff0000', borderWidth: 5, order: 0 },
            { label: 'Data',  data: histPoints(dataEdges, dataFlux, nData, fluxUnit),   borderColor: '#0000ff', borderWidth: 4, order: 1 }
        ]
    },
    options: {
        ...common,
        layout: { padding: { left: 248, right: 29, top: 13, bottom: 7 } },
        scales: {
            x: { type: 'logarithmic', min: energyMin, max: energyMax, display: false },
            y: { type: 'logarithmic', min: fluxMin, max: fluxMax, display: false }
        }
    },
    plugins: [cyanErrors, specDecor]
});

const resChart = new Chart(document.getElementById('resCanvas'), {
    type: 'line',
    data: {
        datasets: [
            { label: 'Residual', data: histPoints(dataEdges, chiSq, nData, 1), borderColor: '#0000ff', borderWidth: 3, order: 0 },
            { label: 'Zero', data: [{ x: energyMin, y: 0 }, { x: energyMax, y: 0 }],
              borderColor: '#000', borderWidth: 3.5, borderDash: [42, 36], order: 1 }
        ]
    },
    options: {
        ...common,
        layout: { padding: { left: 248, right: 29, top: 53, bottom: 263 } },
        scales: {
            x: { type: 'logarithmic', min: energyMin, max: energyMax, display: false },
            y: { type: 'linear', min: chiMin, max: chiMax, display: false }
        }
    },
    plugins: [resDecor]
});

// ── AXIS TITLES (html text) ──
function baselineOffset(el) {
    const m = document.createElement('span');
    m.style.cssText = 'display:inline-block;width:0;height:0;';
    el.appendChild(m);
    const b = m.offsetTop;
    el.removeChild(m);
    return b;
}

function placeRotated(el, baselineX, cy) {
    const b = baselineOffset(el);
    const w = el.offsetWidth, h = el.offsetHeight;
    const cx = baselineX - b + h / 2;
    el.style.left = (cx - w / 2) + 'px';
    el.style.top = (cy - h / 2) + 'px';
    el.style.transform = 'rotate(-90deg)';
}

function placeFlat(el, cx, baselineY) {
    const b = baselineOffset(el);
    el.style.left = (cx - el.offsetWidth / 2) + 'px';
    el.style.top = (baselineY - b) + 'px';
}

placeRotated(document.getElementById('yTitle'), 78, 646);
placeRotated(document.getElementById('chiTitle'), 79, 1348);
placeFlat(document.getElementById('xTitle'), 1320, 1781);
</script>
</body>
</html>
